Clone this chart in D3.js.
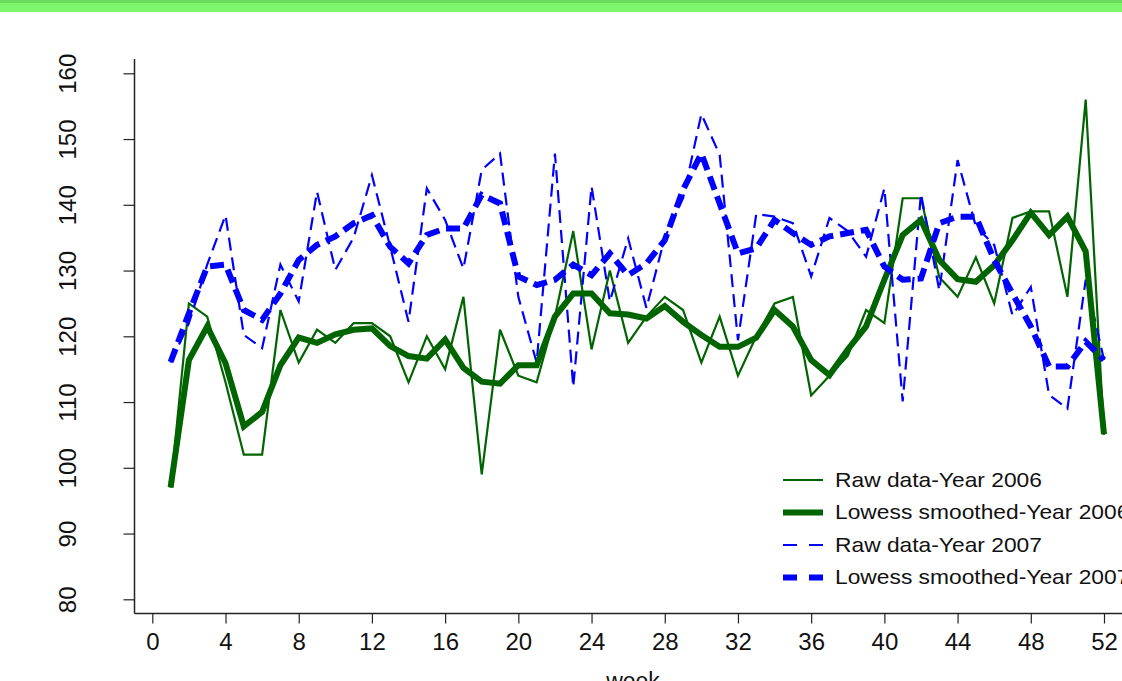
<!DOCTYPE html>
<html>
<head>
<meta charset="utf-8">
<script src="https://cdn.jsdelivr.net/npm/d3@7"></script>
<style>
  body { margin: 0; background: #fff; }
  svg { display: block; font-family: "Liberation Sans", Arial, sans-serif; }
</style>
</head>
<body>
<div id="chart"></div>
<script>
// weekly values, weeks 1..52
const weeks = d3.range(1, 53);

const raw2006 = [97, 125, 123, 113, 102, 102, 124, 116, 121, 119, 122, 122, 120, 113, 120, 115, 126,
    99, 121, 114, 113, 123, 136, 118, 130, 119, 123, 126, 124, 116, 123, 114, 120, 125, 126, 111,
    114, 117, 124, 122, 141, 141, 129, 126, 132, 125, 138, 139, 139, 126, 156, 105];

const smooth2006 = [97, 116.4, 121.5, 115.9, 106.3, 108.5, 115.6, 119.8, 119, 120.3, 121, 121.2, 118.5,
    117, 116.6, 119.5, 115.2, 113.1, 112.8, 115.6, 115.6, 123, 126.5, 126.5, 123.5, 123.3, 122.7,
    124.6, 122.2, 120.2, 118.4, 118.4, 119.8, 124, 121.5, 116.4, 114.1, 118, 121.5, 128.6, 135.4,
    137.7, 131.6, 128.7, 128.3, 130.8, 134.6, 138.8, 135.4, 138.2, 132.9, 105.1];

const raw2007 = [116, 122, 130.9, 138.4, 120.2, 118.2, 130.9, 125.3, 142, 130.1, 135, 144.5, 133.6,
    122.2, 142.5, 137.7, 130.3, 145.3, 147.8, 126, 116, 147.8, 112.3, 142.8, 125.3, 134.9, 124.3,
    135, 141, 153.8, 147.6, 119.4, 138.6, 138.2, 137.2, 129.1, 138, 136, 132.1, 142.5, 110.1, 141.7,
    127, 146.8, 136.7, 133.9, 123.2, 127.5, 111.1, 109, 128.6, 116.4];

const smooth2007 = [116.1, 123.5, 130.6, 130.9, 124, 122.5, 126.5, 131.6, 133.9, 135.2, 137.2, 138.4,
    133.6, 131.1, 135.4, 136.4, 136.4, 141.5, 140.2, 129.1, 127.8, 128.6, 130.9, 129.3, 132.6, 129.3,
    131.1, 134.6, 142.3, 147.8, 140.2, 132.6, 133.4, 137.7, 135.7, 133.9, 135.2, 135.7, 136.2, 130.6,
    128.6, 128.8, 137.2, 138.2, 138.2, 131.6, 126.5, 121.5, 115.4, 115.4, 119.2, 116.4];

const xTicks = d3.range(0, 53, 4);
const yTicks = d3.range(80, 161, 10);

const seriesNames = ["Raw data-Year 2006", "Lowess smoothed-Year 2006",
    "Raw data-Year 2007", "Lowess smoothed-Year 2007"];

const W = 1122, H = 681;

const svg = d3.select("#chart").append("svg")
    .attr("width", W)
    .attr("height", H);

// green band on top
svg.append("rect").attr("x", 0).attr("y", 0).attr("width", W).attr("height", 12).attr("fill", "#7ef66b");
svg.append("rect").attr("x", 0).attr("y", 0).attr("width", W).attr("height", 3).attr("fill", "#6ade5c");

const x = d3.scaleLinear().domain([0, 52]).range([152.3, 1104]);
const y = d3.scaleLinear().domain([80, 160]).range([599.3, 73.3]);

// axis lines
svg.append("line").attr("x1", 134.5).attr("x2", 134.5).attr("y1", 59).attr("y2", 613.5)
    .attr("stroke", "#222").attr("stroke-width", 1.5);
svg.append("line").attr("x1", 134.5).attr("x2", W).attr("y1", 613.5).attr("y2", 613.5)
    .attr("stroke", "#222").attr("stroke-width", 1.5);

// x axis
const xAxis = svg.append("g")
    .attr("transform", "translate(0,613.5)")
    .call(d3.axisBottom(x).tickValues(xTicks).tickSize(10).tickPadding(8));
xAxis.select(".domain").remove();
xAxis.selectAll("line").attr("stroke", "#222").attr("stroke-width", 1.2);
xAxis.selectAll("text")
    .attr("font-size", 24).attr("fill", "#111")
    .attr("font-family", "'Liberation Sans', Arial, sans-serif")
    .attr("y", 0).attr("dy", null)
    .attr("dominant-baseline", "central")
    .attr("transform", "translate(0,28)");

// y axis
const yAxis = svg.append("g")
    .attr("transform", "translate(134.5,0)")
    .call(d3.axisLeft(y).tickValues(yTicks).tickSize(11).tickPadding(0));
yAxis.select(".domain").remove();
yAxis.selectAll("line").attr("stroke", "#222").attr("stroke-width", 1.2);
yAxis.selectAll("text").attr("font-size", 24).attr("fill", "#111")
    .attr("font-family", "'Liberation Sans', Arial, sans-serif")
    .attr("text-anchor", "middle")
    .attr("x", 0).attr("dy", 0)
    .attr("transform", "translate(-67,0) rotate(-90)")
    .attr("dominant-baseline", "central");

// axis title
svg.append("text")
    .attr("x", 633).attr("y", 689)
    .attr("text-anchor", "middle")
    .attr("font-size", 23).attr("fill", "#111")
    .text("week");

// series
const styles = [
    {data: raw2006, color: "#006400", width: 2.2, dash: null},
    {data: smooth2006, color: "#006400", width: 6, dash: null},
    {data: raw2007, color: "#0000ff", width: 2.2, dash: "13,7"},
    {data: smooth2007, color: "#0000ff", width: 6, dash: "14,7"}
];

const line = d3.line()
    .x((d, i) => x(weeks[i]))
    .y(d => y(d));

// draw thin raw lines first, then the smoothed lines on top
[0, 2, 1, 3].forEach(k => {
    const s = styles[k];
    svg.append("path")
        .datum(s.data)
        .attr("d", line)
        .attr("fill", "none")
        .attr("stroke", s.color)
        .attr("stroke-width", s.width)
        .attr("stroke-linejoin", "miter")
        .attr("stroke-dasharray", s.dash);
});

// legend
const legend = svg.append("g").attr("transform", "translate(783,480)");
styles.forEach((s, i) => {
    const g = legend.append("g").attr("transform", `translate(0,${i * 32.5})`);
    g.append("line")
        .attr("x1", 0).attr("x2", 40).attr("y1", 0).attr("y2", 0)
        .attr("stroke", s.color)
        .attr("stroke-width", s.width)
        .attr("stroke-dasharray", s.dash ? "14,12" : null);
    g.append("text")
        .attr("x", 0).attr("y", 0)
        .attr("transform", "translate(52,0) scale(1.14,1)")
        .attr("dominant-baseline", "central")
        .attr("font-size", 20).attr("fill", "#111")
        .text(seriesNames[i]);
});
</script>
</body>
</html>
